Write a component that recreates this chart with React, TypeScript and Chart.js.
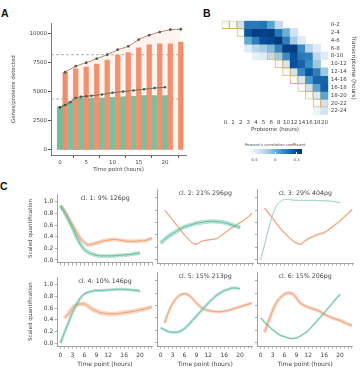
import React, { useEffect, useRef } from 'react';
import { Chart, registerables } from 'chart.js';
Chart.register(...registerables);

const FONT = "'DejaVu Sans', sans-serif";
Chart.defaults.font.family = FONT;
Chart.defaults.color = '#444';

// ---------- Panel A data ----------
const proteomeHours = [0, 1, 2, 3, 4, 5, 6, 8, 10, 12, 14, 16, 18, 20];
const proteinsDetected = [3700, 3900, 4150, 4400, 4450, 4450, 4450, 4450, 4500, 4550, 4600, 4650, 4650, 4650];
const proteinsCumulative = [3650, 3850, 4100, 4450, 4550, 4600, 4650, 4750, 4900, 5000, 5100, 5200, 5300, 5370];
const transcriptomeHours = [1, 3, 5, 7, 9, 11, 13, 15, 17, 19, 21, 23];
const genesDetected = [6650, 6950, 7100, 7350, 7700, 8100, 8350, 8750, 9000, 9100, 9100, 9250];
const genesCumulative = [6660, 7180, 7470, 7820, 8160, 8590, 8880, 9460, 9830, 10100, 10300, 10340];
const referenceLevels = [8160, 4370];
const panelAXTicks = [0, 5, 10, 15, 20];
const panelAYTicks = [0, 2500, 5000, 7500, 10000];

// ---------- Panel B data ----------
const proteomeLabels = ['0', '1', '2', '3', '4', '5', '6', '8', '10', '12', '14', '16', '18', '20'];
const transcriptomeLabels = ['0-2', '2-4', '4-6', '6-8', '8-10', '10-12', '12-14', '14-16', '16-18', '18-20', '20-22', '22-24'];
const N = null;
const correlation: (number | null)[][] = [
  [-0.5, -0.5, -0.3, 0.22, 0.22, 0.24, 0.05, -0.25, N, N, N, N, N, N],
  [N, N, -0.5, 0.35, 0.45, 0.43, 0.45, 0.22, 0.0, -0.3, N, N, N, N],
  [N, N, N, 0.02, 0.2, 0.38, 0.4, 0.46, 0.2, -0.15, -0.38, N, N, N],
  [N, N, N, -0.38, -0.22, -0.15, -0.05, 0.18, 0.43, 0.45, 0.15, -0.22, -0.38, N],
  [N, N, N, N, -0.42, -0.38, -0.25, -0.12, 0.15, 0.38, 0.22, 0.2, -0.22, -0.38],
  [N, N, N, N, N, N, N, -0.5, -0.32, 0.38, 0.3, 0.15, -0.12, N],
  [N, N, N, N, N, N, N, N, -0.5, -0.3, 0.15, 0.36, 0.2, -0.12],
  [N, N, N, N, N, N, N, N, N, -0.5, -0.35, 0.1, 0.3, 0.3],
  [N, N, N, N, N, N, N, N, N, N, -0.5, -0.3, 0.05, 0.32],
  [N, N, N, N, N, N, N, N, N, N, N, -0.5, -0.35, 0.05],
  [N, N, N, N, N, N, N, N, N, N, N, N, -0.5, -0.32],
  [N, N, N, N, N, N, N, N, N, N, N, N, -0.45, -0.32],
];
const highlightedCells: [number, number][] = [
  [0, 0], [0, 1], [0, 2], [1, 2], [4, 6], [4, 7], [5, 7], [5, 8], [6, 8], [6, 9],
  [7, 9], [7, 10], [8, 10], [8, 11], [9, 11], [9, 12], [10, 12], [10, 13],
];
const colorbarTicks = [-0.4, 0, 0.4];
const colorbarRange = [-0.5, 0.5];

// ---------- Panel C data ----------
const clusterHours = [0, 1, 2, 3, 4, 5, 6, 7, 8, 9, 10, 11, 12, 13, 14, 15, 16, 17, 18, 19, 20, 21, 22, 23];
const clusterTitles = ['cl. 1: 9% 126pg', 'cl. 2: 21% 296pg', 'cl. 3: 29% 404pg', 'cl. 4: 10% 146pg', 'cl. 5: 15% 213pg', 'cl. 6: 15% 206pg'];
const cl1Transcript = [0.93, 0.84, 0.72, 0.6, 0.48, 0.37, 0.3, 0.26, 0.27, 0.29, 0.31, 0.33, 0.34, 0.35, 0.35, 0.34, 0.33, 0.32, 0.32, 0.32, 0.33, 0.33, 0.35, 0.37];
const cl1Protein = [0.93, 0.82, 0.69, 0.55, 0.4, 0.27, 0.18, 0.13, 0.1, 0.08, 0.07, 0.07, 0.07, 0.07, 0.075, 0.08, 0.085, 0.09, 0.1, 0.11, 0.12];
const cl2Transcript = [N, 0.8, 0.72, 0.64, 0.56, 0.48, 0.4, 0.33, 0.27, 0.25, 0.29, 0.31, 0.32, 0.33, 0.34, 0.38, 0.43, 0.48, 0.52, 0.56, 0.6, 0.64, 0.69, 0.75];
const cl2Protein = [0.27, 0.33, 0.38, 0.42, 0.46, 0.5, 0.53, 0.55, 0.57, 0.59, 0.6, 0.61, 0.615, 0.62, 0.615, 0.61, 0.6, 0.58, 0.56, 0.54, 0.52];
const cl3Transcript = [N, 0.83, 0.75, 0.67, 0.58, 0.5, 0.43, 0.37, 0.31, 0.27, 0.25, 0.3, 0.34, 0.37, 0.4, 0.42, 0.44, 0.48, 0.53, 0.58, 0.63, 0.69, 0.75, 0.81];
const cl3Protein = [0.0, 0.25, 0.5, 0.72, 0.87, 0.94, 0.97, 0.97, 0.96, 0.955, 0.955, 0.955, 0.955, 0.955, 0.955, 0.95, 0.95, 0.945, 0.94, 0.93, 0.92];
const cl4Transcript = [N, 0.43, 0.5, 0.6, 0.65, 0.67, 0.67, 0.63, 0.58, 0.55, 0.52, 0.51, 0.5, 0.5, 0.5, 0.51, 0.52, 0.53, 0.54, 0.55, 0.57, 0.58, 0.6, 0.62];
const cl4Protein = [0.0, 0.18, 0.35, 0.52, 0.66, 0.77, 0.84, 0.87, 0.89, 0.9, 0.9, 0.905, 0.91, 0.915, 0.92, 0.92, 0.92, 0.915, 0.91, 0.9, 0.89];
const cl5Transcript = [N, 0.32, 0.5, 0.63, 0.72, 0.77, 0.79, 0.77, 0.71, 0.64, 0.58, 0.54, 0.52, 0.51, 0.5, 0.5, 0.51, 0.52, 0.54, 0.56, 0.58, 0.6, 0.62, 0.64];
const cl5Protein = [0.24, 0.21, 0.18, 0.17, 0.17, 0.19, 0.23, 0.29, 0.36, 0.43, 0.5, 0.57, 0.64, 0.7, 0.76, 0.8, 0.84, 0.86, 0.88, 0.88, 0.87];
const cl6Transcript = [N, 0.17, 0.35, 0.52, 0.65, 0.73, 0.78, 0.8, 0.79, 0.72, 0.64, 0.6, 0.57, 0.55, 0.53, 0.5, 0.46, 0.43, 0.4, 0.38, 0.36, 0.33, 0.3, 0.28];
const cl6Protein = [0.4, 0.33, 0.27, 0.21, 0.16, 0.12, 0.1, 0.08, 0.07, 0.08, 0.11, 0.15, 0.2, 0.27, 0.34, 0.41, 0.48, 0.56, 0.63, 0.71, 0.78];
const transcriptProfiles = [cl1Transcript, cl2Transcript, cl3Transcript, cl4Transcript, cl5Transcript, cl6Transcript];
const proteinProfiles = [cl1Protein, cl2Protein, cl3Protein, cl4Protein, cl5Protein, cl6Protein];
const panelCXLabels = [0, 3, 6, 9, 12, 16, 20];
const panelCYTicks = [0, 0.2, 0.4, 0.6, 0.8, 1.0];

// ---------- styles ----------
const transcriptBandWidth = [4, 1.6, 2, 4.5, 3, 3.5];
const proteinBandWidth = [4, 4.5, 1, 3, 3, 2];
const proteinLineColor = ['#63bca2', '#63bca2', '#a9d9ca', '#6cc0a7', '#6cc0a7', '#6cc0a7'];

const BLUES = [
  [247, 251, 255], [222, 235, 247], [198, 219, 239], [158, 202, 225], [107, 174, 214],
  [66, 146, 198], [33, 113, 181], [8, 81, 156], [8, 48, 107],
];
function bluesColor(v: number) {
  let t = (v - colorbarRange[0]) / (colorbarRange[1] - colorbarRange[0]);
  t = Math.max(0, Math.min(1, t));
  const p = t * (BLUES.length - 1);
  const i = Math.min(BLUES.length - 2, Math.floor(p));
  const f = p - i;
  const c = BLUES[i].map((a, k) => Math.round(a + (BLUES[i + 1][k] - a) * f));
  return `rgb(${c[0]},${c[1]},${c[2]})`;
}

const fixSize = (px: number) => (scale: any) => {
  if (scale.isHorizontal()) scale.height = px; else scale.width = px;
};

function ChartBox({ left, top, width, height, config }: any) {
  const ref = useRef<HTMLCanvasElement>(null);
  useEffect(() => {
    const chart = new Chart(ref.current as HTMLCanvasElement, config);
    return () => chart.destroy();
  }, []);
  return (
    <canvas ref={ref} width={width} height={height}
      style={{ position: 'absolute', left, top, width, height }} />
  );
}

// ---------- Panel A ----------
const refLinePlugin = {
  id: 'refLines',
  beforeDatasetsDraw(chart: any) {
    const { ctx, chartArea, scales } = chart;
    ctx.save();
    ctx.strokeStyle = '#9a9a9a';
    ctx.lineWidth = 0.8;
    ctx.setLineDash([3, 2]);
    for (const v of referenceLevels) {
      const y = scales.y.getPixelForValue(v);
      ctx.beginPath();
      ctx.moveTo(chartArea.left, y);
      ctx.lineTo(chartArea.right, y);
      ctx.stroke();
    }
    ctx.restore();
  },
};

const axisColor = '#555';
const panelAConfig: any = {
  type: 'bar',
  data: {
    datasets: [
      {
        type: 'line', order: 0,
        data: transcriptomeHours.map((h, i) => ({ x: h, y: genesCumulative[i] })),
        borderColor: '#b98660', borderWidth: 1, tension: 0.35,
        pointRadius: 1.4, pointBackgroundColor: '#5a5a5a', pointBorderWidth: 0,
        fill: 'origin', backgroundColor: 'rgba(252,175,140,0.14)',
      },
      {
        type: 'line', order: 0,
        data: proteomeHours.map((h, i) => ({ x: h, y: proteinsCumulative[i] })),
        borderColor: '#3f6f5c', borderWidth: 1, tension: 0.35,
        pointRadius: 1.3, pointBackgroundColor: '#3a4a44', pointBorderWidth: 0,
        fill: false,
      },
      {
        order: 1, grouped: false, barThickness: 4.6,
        data: transcriptomeHours.map((h, i) => ({ x: h, y: genesDetected[i] })),
        backgroundColor: '#ef8c69',
      },
      {
        order: 2, grouped: false, barThickness: 5.4,
        data: proteomeHours.map((h, i) => ({ x: h, y: proteinsDetected[i] })),
        backgroundColor: '#6bbf9f',
      },
    ],
  },
  options: {
    responsive: false, animation: false, maintainAspectRatio: false,
    layout: { padding: { left: 0, top: 8.3, right: 4, bottom: 0 } },
    plugins: { legend: { display: false }, tooltip: { enabled: false } },
    scales: {
      x: {
        type: 'linear', min: -1.7, max: 24, offset: false,
        afterBuildTicks: (s: any) => { s.ticks = panelAXTicks.map((v) => ({ value: v })); },
        afterFit: fixSize(19),
        grid: { drawOnChartArea: false, drawTicks: true, tickLength: 3, color: axisColor },
        border: { color: axisColor, width: 0.8 },
        ticks: { font: { size: 5.5 }, padding: 1, maxRotation: 0, autoSkip: false, color: '#444', callback: (v: number) => String(v) },
        title: { display: true, text: 'Time point (hours)', font: { size: 5.5 }, padding: { top: 0, bottom: 1 }, color: '#444' },
      },
      y: {
        min: -430, max: 10850,
        afterBuildTicks: (s: any) => { s.ticks = panelAYTicks.map((v) => ({ value: v })); },
        afterFit: fixSize(51),
        grid: { drawOnChartArea: false, drawTicks: true, tickLength: 3, color: axisColor },
        border: { color: axisColor, width: 0.8 },
        ticks: { font: { size: 5.5 }, padding: 1, color: '#444', callback: (v: number) => String(v) },
        title: { display: true, text: 'Genes/proteins detected', font: { size: 5.5 }, padding: { top: 10, bottom: 0 }, color: '#444' },
      },
    },
  },
  plugins: [refLinePlugin],
};

// ---------- Panel B ----------
const isHighlighted = (r: number, c: number) => highlightedCells.some(([hr, hc]) => hr === r && hc === c);
const heatmapConfig: any = {
  type: 'bar',
  data: {
    labels: proteomeLabels,
    datasets: correlation.map((row, r) => ({
      data: row.map((v) => (v == null ? null : [r, r + 1])),
      backgroundColor: row.map((v) => (v == null ? 'rgba(0,0,0,0)' : bluesColor(v))),
      borderColor: row.map((_, c) => (isHighlighted(r, c) ? '#d4b46c' : 'rgba(0,0,0,0)')),
      borderWidth: row.map((_, c) => (isHighlighted(r, c) ? 0.9 : 0)),
      borderSkipped: false, grouped: false, barPercentage: 1, categoryPercentage: 1,
    })),
  },
  options: {
    responsive: false, animation: false, maintainAspectRatio: false,
    layout: { padding: { left: 6.7, top: 5.7, right: 0, bottom: 0 } },
    plugins: { legend: { display: false }, tooltip: { enabled: false } },
    scales: {
      x: {
        type: 'category', offset: true,
        afterFit: fixSize(20),
        grid: { display: false, drawTicks: false },
        border: { display: false },
        ticks: { font: { size: 5.5 }, padding: 4, maxRotation: 0, minRotation: 0, autoSkip: false, color: '#444' },
        title: { display: true, text: 'Proteome (hours)', font: { size: 5.5 }, padding: { top: 0, bottom: 1.7 }, color: '#444' },
      },
      y: { type: 'linear', min: 0, max: 12, reverse: true, display: false },
      y2: {
        type: 'category', labels: transcriptomeLabels, position: 'right', offset: true,
        afterFit: fixSize(32.7),
        grid: { display: false, drawTicks: false },
        border: { display: false },
        ticks: { font: { size: 5.5 }, padding: 2.4, autoSkip: false, color: '#444' },
        title: { display: true, text: 'Transcriptome (hours)', font: { size: 5.8 }, padding: { top: 4.5, bottom: 0 }, color: '#444' },
      },
    },
  },
};

// ---------- Panel C ----------
const C_LEFTS = [57.3, 157.5, 257.5];
const C_TOPS = [189.5, 272.5];
const C_PLOT_W = 95.5;
const C_PLOT_H = 73.5;
const cAxis = '#8a8a8a';

function makeClusterConfig(k: number, showY: boolean, showX: boolean, yAxisW: number, xAxisH: number, padTop: number, padRight: number) {
  const toPts = (vals: (number | null)[]) =>
    vals.map((v, i) => ({ x: clusterHours[i], y: v })).filter((p) => p.y != null);
  const tr = toPts(transcriptProfiles[k]);
  const pr = toPts(proteinProfiles[k]);
  const base = { pointRadius: 0, fill: false, cubicInterpolationMode: 'monotone' };
  const titlePlugin = {
    id: 'clTitle' + k,
    afterDraw(chart: any) {
      const { ctx, chartArea } = chart;
      ctx.save();
      ctx.font = `6.3px ${FONT}`;
      ctx.fillStyle = '#444';
      ctx.textAlign = 'center';
      ctx.textBaseline = 'middle';
      ctx.fillText(clusterTitles[k], (chartArea.left + chartArea.right) / 2, chartArea.top + 3.8);
      ctx.restore();
    },
  };
  return {
    type: 'line',
    data: {
      datasets: [
        { ...base, data: pr, borderColor: proteinLineColor[k], borderWidth: 1, order: 0 },
        { ...base, data: pr, borderColor: 'rgba(105,192,165,0.45)', borderWidth: proteinBandWidth[k], order: 1 },
        { ...base, data: tr, borderColor: '#eaa27a', borderWidth: 1, order: 2 },
        { ...base, data: tr, borderColor: 'rgba(242,165,115,0.45)', borderWidth: transcriptBandWidth[k], order: 3 },
      ],
    },
    options: {
      responsive: false, animation: false, maintainAspectRatio: false,
      layout: { padding: { left: 0, top: padTop, right: padRight, bottom: 0 } },
      plugins: { legend: { display: false }, tooltip: { enabled: false } },
      scales: {
        x: {
          type: 'linear', min: -0.8, max: 23.2,
          afterBuildTicks: (s: any) => { s.ticks = clusterHours.map((v) => ({ value: v })); },
          afterFit: fixSize(xAxisH),
          grid: { drawOnChartArea: false, drawTicks: true, tickLength: 2.5, color: cAxis, lineWidth: 0.7 },
          border: { color: cAxis, width: 0.8 },
          ticks: {
            display: showX, font: { size: 6 }, padding: 3, maxRotation: 0, autoSkip: false, color: '#444',
            callback: (v: number) => (panelCXLabels.includes(v) ? String(v) : ''),
          },
          title: { display: showX, text: 'Time point (hours)', font: { size: 6 }, padding: { top: 0, bottom: 1 }, color: '#444' },
        },
        y: {
          min: -0.05, max: 1.13,
          afterBuildTicks: (s: any) => { s.ticks = panelCYTicks.map((v) => ({ value: v })); },
          afterFit: fixSize(yAxisW),
          grid: { drawOnChartArea: false, drawTicks: true, tickLength: 2.5, color: cAxis, lineWidth: 0.7 },
          border: { color: cAxis, width: 0.8 },
          ticks: {
            display: showY, font: { size: 6 }, padding: 1.5, color: '#444',
            callback: (v: number) => v.toFixed(1),
          },
          title: { display: showY, text: 'Scaled quantification', font: { size: 5.6 }, padding: { top: 6.7, bottom: 0 }, color: '#444' },
        },
      },
    },
    plugins: [titlePlugin],
  };
}

function clusterBoxes() {
  const boxes: any[] = [];
  for (let k = 0; k < 6; k++) {
    const col = k % 3;
    const row = Math.floor(k / 3);
    const showY = col === 0;
    const showX = row === 1;
    const canvasLeft = showY ? 20 : Math.floor(C_LEFTS[col] - 5.5);
    const yAxisW = C_LEFTS[col] - canvasLeft;
    const canvasTop = Math.floor(C_TOPS[row]);
    const padTop = C_TOPS[row] - canvasTop;
    const xAxisH = showX ? 23 : 5;
    const width = Math.ceil(yAxisW + C_PLOT_W + 2);
    const padRight = width - yAxisW - C_PLOT_W;
    const height = Math.round(padTop + C_PLOT_H + xAxisH);
    boxes.push(
      <ChartBox key={'c' + k} left={canvasLeft} top={canvasTop} width={width} height={height}
        config={makeClusterConfig(k, showY, showX, yAxisW, xAxisH, padTop, padRight)} />
    );
  }
  return boxes;
}

const letterStyle: any = {
  position: 'absolute', fontFamily: "'Liberation Sans', Arial, sans-serif", fontWeight: 'bold',
  fontSize: 10.5, lineHeight: '11px', color: '#111',
};

export default function App() {
  const cbLeft = 248.5;
  const cbWidth = 53.5;
  const gradStops = [0, 0.125, 0.25, 0.375, 0.5, 0.625, 0.75, 0.875, 1]
    .map((t) => `${bluesColor(colorbarRange[0] + t * (colorbarRange[1] - colorbarRange[0]))} ${t * 100}%`)
    .join(', ');
  return (
    <div style={{ position: 'absolute', left: 0, top: 0, width: 361, height: 372, background: '#fff', overflow: 'hidden' }}>
      <div style={{ ...letterStyle, left: 1, top: 8 }}>A</div>
      <div style={{ ...letterStyle, left: 203, top: 8 }}>B</div>
      <div style={{ ...letterStyle, left: 0, top: 181 }}>C</div>
      <ChartBox left={0} top={15} width={190} height={159} config={panelAConfig} />
      <ChartBox left={215} top={15} width={146} height={120} config={heatmapConfig} />
      <div style={{ position: 'absolute', left: cbLeft - 20, width: cbWidth + 40, top: 141.5, textAlign: 'center', fontFamily: FONT, fontSize: 3.8, lineHeight: '5px', color: '#444' }}>
        Pearson's correlation coefficient
      </div>
      <div style={{ position: 'absolute', left: cbLeft, top: 149, width: cbWidth, height: 4.5, background: `linear-gradient(to right, ${gradStops})` }} />
      {colorbarTicks.map((t) => {
        const x = cbLeft + ((t - colorbarRange[0]) / (colorbarRange[1] - colorbarRange[0])) * cbWidth;
        return (
          <React.Fragment key={'cb' + t}>
            <div style={{ position: 'absolute', left: x - 0.3, top: 152, width: 0.6, height: 1.5, background: '#fff' }} />
            <div style={{ position: 'absolute', left: x - 10, width: 20, top: 156.5, textAlign: 'center', fontFamily: FONT, fontSize: 3.8, lineHeight: '5px', color: '#444' }}>
              {t === 0 ? '0' : t.toFixed(1)}
            </div>
          </React.Fragment>
        );
      })}
      {clusterBoxes()}
    </div>
  );
}
